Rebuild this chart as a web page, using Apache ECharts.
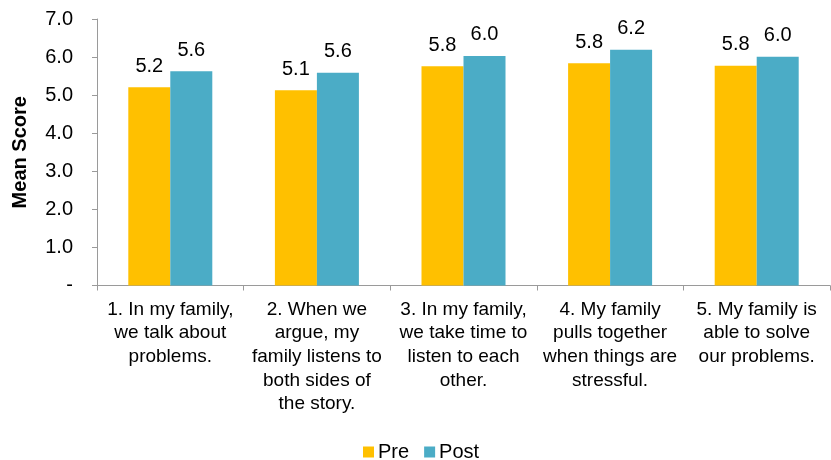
<!DOCTYPE html>
<html>
<head>
<meta charset="utf-8">
<style>
  html, body { margin: 0; padding: 0; background: #ffffff; }
  #chart { width: 831px; height: 460px; }
</style>
<script src="https://cdn.jsdelivr.net/npm/echarts@6/dist/echarts.min.js"></script>
</head>
<body>
<div id="chart"></div>
<script>
// Family communication items
const categories = [
  "1. In my family,\nwe talk about\nproblems.",
  "2. When we\nargue, my\nfamily listens to\nboth sides of\nthe story.",
  "3. In my family,\nwe take time to\nlisten to each\nother.",
  "4. My family\npulls together\nwhen things are\nstressful.",
  "5. My family is\nable to solve\nour problems."
];

// Mean scores before and after the program
const preScores = [5.21, 5.13, 5.76, 5.84, 5.77];
const postScores = [5.63, 5.59, 6.03, 6.19, 6.01];

const seriesNames = ["Pre", "Post"];
const yTicks = [0, 1, 2, 3, 4, 5, 6, 7];

const FONT = "'Liberation Sans', Arial, sans-serif";
const AXIS_GREY = "#9a9a9a";

const chart = echarts.init(document.getElementById("chart"), null, { renderer: "canvas" });

const barLabel = {
  show: true,
  position: "top",
  distance: 11,
  color: "#000",
  fontFamily: FONT,
  fontSize: 20,
  formatter: p => p.value.toFixed(1)
};

chart.setOption({
  animation: false,
  backgroundColor: "#ffffff",
  textStyle: { fontFamily: FONT },
  grid: { left: 97, right: 1, top: 19, bottom: 174.5, containLabel: false },
  legend: {
    data: seriesNames,
    left: 363,
    top: 442,
    padding: 0,
    icon: "rect",
    itemWidth: 11,
    itemHeight: 11,
    itemGap: 15,
    textStyle: { fontFamily: FONT, fontSize: 20, color: "#000", padding: [0, 0, 0, -1] }
  },
  xAxis: {
    type: "category",
    data: categories,
    axisLine: { lineStyle: { color: AXIS_GREY, width: 1 } },
    axisTick: { show: true, alignWithLabel: false, length: 5, lineStyle: { color: AXIS_GREY } },
    axisLabel: {
      interval: 0,
      margin: 12,
      color: "#000",
      fontFamily: FONT,
      fontSize: 19,
      lineHeight: 23.7,
      align: "center"
    }
  },
  yAxis: {
    type: "value",
    min: yTicks[0],
    max: yTicks[yTicks.length - 1],
    interval: 1,
    name: "Mean Score",
    nameLocation: "middle",
    nameGap: 67,
    nameRotate: 90,
    nameTextStyle: { fontFamily: FONT, fontSize: 20, fontWeight: "bold", color: "#000" },
    axisLine: { show: true, lineStyle: { color: AXIS_GREY, width: 1 } },
    axisTick: { show: true, length: 5, lineStyle: { color: AXIS_GREY } },
    splitLine: { show: false },
    axisLabel: {
      margin: 24,
      color: "#000",
      fontFamily: FONT,
      fontSize: 20,
      formatter: v => (v === 0 ? "-" : v.toFixed(1))
    }
  },
  series: [
    {
      name: seriesNames[0],
      type: "bar",
      data: preScores,
      barWidth: 42,
      barGap: "0%",
      itemStyle: { color: "#FFC000" },
      label: barLabel
    },
    {
      name: seriesNames[1],
      type: "bar",
      data: postScores,
      barWidth: 42,
      barGap: "0%",
      itemStyle: { color: "#4BACC6" },
      label: barLabel
    }
  ]
});
</script>
</body>
</html>
